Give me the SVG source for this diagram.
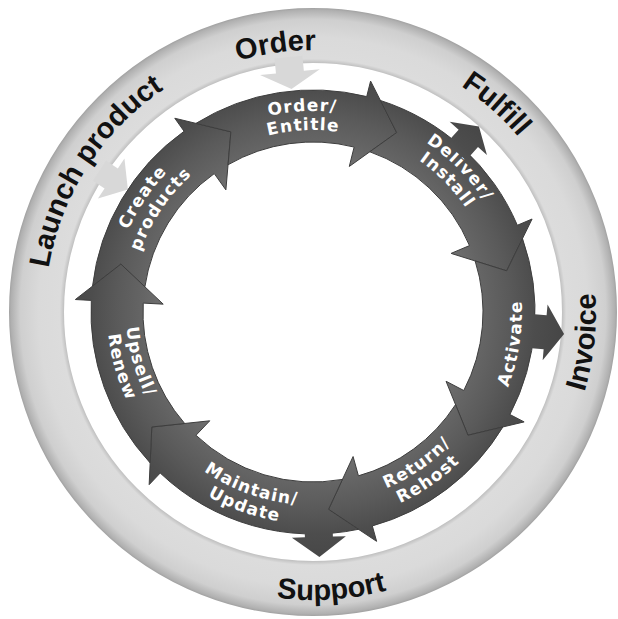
<svg xmlns="http://www.w3.org/2000/svg" width="618" height="619" viewBox="0 0 618 619">
<style>
.lbl{font-family:"Liberation Sans",Arial,sans-serif;font-weight:bold;font-size:29px;fill:#111}
.step{font-family:"DejaVu Sans",Verdana,sans-serif;font-weight:bold;font-size:17px;fill:#fff;letter-spacing:1.2px}
.seg{fill:url(#bandGrad);stroke:#3e3e3e;stroke-width:1}
.dark{fill:url(#bandGrad)}
.light{fill:#d8d8d8}
</style>
<defs>
<radialGradient id="ringGrad" gradientUnits="userSpaceOnUse" cx="313" cy="312" r="305">
<stop offset="0.815" stop-color="#bdbdbd"/>
<stop offset="0.83" stop-color="#dcdcdc"/>
<stop offset="0.9" stop-color="#dadada"/>
<stop offset="0.96" stop-color="#cfcfcf"/>
<stop offset="0.99" stop-color="#b0b0b0"/>
<stop offset="1" stop-color="#9a9a9a"/>
</radialGradient>
<radialGradient id="bandGrad" gradientUnits="userSpaceOnUse" cx="313" cy="312" r="255">
<stop offset="0.58" stop-color="#717171"/>
<stop offset="0.67" stop-color="#656565"/>
<stop offset="0.77" stop-color="#5a5a5a"/>
<stop offset="0.87" stop-color="#4d4d4d"/>
<stop offset="1" stop-color="#454545"/>
</radialGradient>
<path id="t-order" d="M 51.16 303.14 A 262 262 0 0 1 562.17 231.04"/>
<path id="t-fulfill" d="M 144.55 100.99 A 270 270 0 0 1 543.46 452.67"/>
<path id="t-launch" d="M 130.91 508.64 A 268 268 0 0 1 416.85 64.94"/>
<path id="t-invoice" d="M 331.26 594.41 A 283 283 0 0 0 392.43 40.38"/>
<path id="t-support" d="M 33.31 380.7 A 288 288 0 0 0 599.32 343.1"/>
<path id="t-create1" d="M 172.68 457.31 A 202 202 0 0 1 395.16 127.47"/>
<path id="t-create2" d="M 185.88 443.64 A 183 183 0 0 1 387.43 144.82"/>
<path id="t-order1" d="M 113.5 287.51 A 201 201 0 0 1 508.85 266.78"/>
<path id="t-order2" d="M 132.36 289.82 A 182 182 0 0 1 490.34 271.06"/>
<path id="t-deliver1" d="M 197.46 143.88 A 204 204 0 0 1 479.08 430.46"/>
<path id="t-deliver2" d="M 208.22 159.53 A 185 185 0 0 1 463.61 419.43"/>
<path id="t-activate" d="M 316.65 520.97 A 209 209 0 0 0 381.04 114.39"/>
<path id="t-return1" d="M 176.78 445.87 A 191 191 0 0 0 486.8 232.79"/>
<path id="t-return2" d="M 163.22 459.19 A 210 210 0 0 0 504.09 224.91"/>
<path id="t-maintain1" d="M 122.65 280.15 A 193 193 0 0 0 480.98 407.04"/>
<path id="t-maintain2" d="M 103.91 277.01 A 212 212 0 0 0 497.52 416.39"/>
<path id="t-upsell1" d="M 231.03 143.93 A 187 187 0 0 0 332.55 497.98"/>
<path id="t-upsell2" d="M 222.7 126.85 A 206 206 0 0 0 334.53 516.87"/>
</defs>
<rect width="618" height="619" fill="#fff"/>
<g id="ring">
<circle cx="313" cy="312" r="276.5" fill="none" stroke="url(#ringGrad)" stroke-width="55"/>
</g>
<g id="phase-order"><text class="lbl"><textPath href="#t-order" startOffset="50%" text-anchor="middle">Order</textPath></text></g>
<g id="phase-fulfill"><text class="lbl"><textPath href="#t-fulfill" startOffset="50%" text-anchor="middle">Fulfill</textPath></text></g>
<g id="phase-invoice"><text class="lbl"><textPath href="#t-invoice" startOffset="50%" text-anchor="middle">Invoice</textPath></text></g>
<g id="phase-support"><text class="lbl"><textPath href="#t-support" startOffset="50%" text-anchor="middle">Support</textPath></text></g>
<g id="phase-launch"><text class="lbl"><textPath href="#t-launch" startOffset="50%" text-anchor="middle">Launch product</textPath></text></g>
<g id="connectors-in">
<path class="light" transform="rotate(-95.5 313 312)" d="M 569 298 L 554 298 L 554 282 L 537 312 L 554 342 L 554 326 L 569 326 Z"/>
<path class="light" transform="rotate(213.5 313 312)" d="M 569 300 L 555 300 L 555 288 L 535 312 L 555 336 L 555 324 L 569 324 Z"/>
</g>
<g id="step-create">
<path class="seg" d="M 92.51 286.15 A 222 222 0 0 1 184.08 131.27 L 174.79 118.24 L 230.89 131.83 L 225.89 189.88 L 214.28 173.6 A 170 170 0 0 0 144.88 286.81 L 120.88 264.1 Z"/>
<text class="step"><textPath href="#t-create1" startOffset="50%" text-anchor="middle">Create</textPath></text>
<text class="step"><textPath href="#t-create2" startOffset="50%" text-anchor="middle">products</textPath></text>
</g>
<g id="step-order">
<path class="seg" d="M 195.97 123.35 A 222 222 0 0 1 366.71 96.59 L 370.58 81.07 L 396.68 132.55 L 349.29 166.46 L 354.13 147.05 A 170 170 0 0 0 228.06 164.74 L 230.89 131.83 Z"/>
<text class="step"><textPath href="#t-order1" startOffset="50%" text-anchor="middle">Order/</textPath></text>
<text class="step"><textPath href="#t-order2" startOffset="50%" text-anchor="middle">Entitle</textPath></text>
</g>
<g id="step-deliver">
<path class="seg" d="M 380.44 100.49 A 222 222 0 0 1 517.35 225.26 L 532.08 219 L 506.67 270.83 L 451.08 253.39 L 469.49 245.58 A 170 170 0 0 0 369.81 151.77 L 396.68 132.55 Z"/>
<text class="step"><textPath href="#t-deliver1" startOffset="50%" text-anchor="middle">Deliver/</textPath></text>
<text class="step"><textPath href="#t-deliver2" startOffset="50%" text-anchor="middle">Install</textPath></text>
</g>
<g id="step-activate">
<path class="seg" d="M 522.51 238.57 A 222 222 0 0 1 509.92 414.51 L 524.11 421.9 L 467.96 435.26 L 446.05 381.26 L 463.79 390.5 A 170 170 0 0 0 475.15 260.94 L 506.67 270.83 Z"/>
<text class="step"><textPath href="#t-activate" startOffset="50%" text-anchor="middle">Activate</textPath></text>
</g>
<g id="step-return">
<path class="seg" d="M 502.92 426.95 A 222 222 0 0 1 372.33 525.93 L 376.6 541.34 L 328.53 509.39 L 353.09 456.54 L 358.43 475.82 A 170 170 0 0 0 455.54 404.64 L 467.96 435.26 Z"/>
<text class="step"><textPath href="#t-return1" startOffset="50%" text-anchor="middle">Return/</textPath></text>
<text class="step"><textPath href="#t-return2" startOffset="50%" text-anchor="middle">Rehost</textPath></text>
</g>
<g id="step-maintain">
<path class="seg" d="M 358.45 529.3 A 222 222 0 0 1 160.19 473.03 L 149.17 484.64 L 151.81 426.98 L 209.75 420.81 L 195.98 435.31 A 170 170 0 0 0 342.46 479.43 L 328.53 509.39 Z"/>
<text class="step"><textPath href="#t-maintain1" startOffset="50%" text-anchor="middle">Maintain/</textPath></text>
<text class="step"><textPath href="#t-maintain2" startOffset="50%" text-anchor="middle">Update</textPath></text>
</g>
<g id="step-upsell">
<path class="seg" d="M 150.15 462.88 A 222 222 0 0 1 91.3 300.38 L 75.33 299.54 L 120.88 264.1 L 163.21 304.15 L 143.23 303.1 A 170 170 0 0 0 184.66 423.48 L 151.81 426.98 Z"/>
<text class="step"><textPath href="#t-upsell1" startOffset="50%" text-anchor="middle">Upsell/</textPath></text>
<text class="step"><textPath href="#t-upsell2" startOffset="50%" text-anchor="middle">Renew</textPath></text>
</g>
<g id="connectors-out">
<path class="dark" transform="rotate(-48.2 313 312)" d="M 528 299 L 546 299 L 546 287 L 562 312 L 546 337 L 546 325 L 528 325 Z"/>
<path class="dark" transform="rotate(5 313 312)" d="M 528 295 L 546 295 L 546 284 L 565 312 L 546 340 L 546 329 L 528 329 Z"/>
<path class="dark" transform="rotate(88.5 313 312)" d="M 528 298 L 538 298 L 538 285 L 558 312 L 538 339 L 538 326 L 528 326 Z"/>
</g>
</svg>
